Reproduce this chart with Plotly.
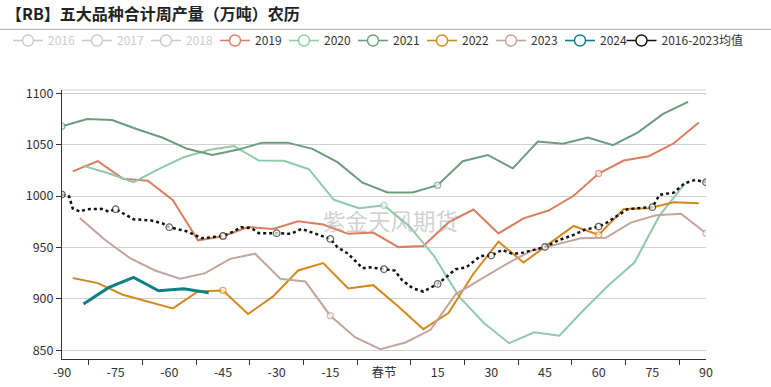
import plotly.graph_objects as go

# ---------------- data ----------------
x_2019 = [-87, -80, -73, -66, -59, -52, -45, -38, -31, -24, -17, -10, -3, 4, 11, 18, 25, 32, 39, 46, 53, 60, 67, 74, 81, 88]
y_2019 = [1024, 1034, 1017, 1015, 996, 957, 961, 970, 968, 975.6, 972.4, 963.3, 964.6, 950.4, 951.4, 974.4, 987, 963.7, 978.4, 986, 1000.3, 1022, 1034.6, 1038.8, 1051.4, 1071.5]

x_2020 = [-84, -77, -70, -63, -56, -49, -42, -35, -28, -21, -14, -7, 0, 7, 14, 21, 28, 35, 42, 49, 56, 63, 70, 77, 84]
y_2020 = [1029.4, 1022.3, 1013.5, 1026.2, 1037.8, 1044.9, 1048.8, 1034.6, 1034.3, 1026.2, 996.4, 988.3, 991, 971, 941.8, 902.3, 876.4, 857, 867.5, 864.3, 890, 914, 935.4, 981, 1012]

x_2021 = [-90, -83, -76, -69, -62, -55, -48, -41, -34, -27, -20, -13, -6, 1, 8, 15, 22, 29, 36, 43, 50, 57, 64, 71, 78, 85]
y_2021 = [1068, 1075, 1074, 1065, 1057, 1046, 1040, 1045, 1052, 1052, 1046, 1033, 1013, 1003.5, 1003.5, 1010.6, 1034, 1040, 1027, 1053, 1051, 1057, 1049.5, 1062, 1080, 1091.6]

x_2022 = [-87, -80, -73, -66, -59, -52, -45, -38, -31, -24, -17, -10, -3, 4, 11, 18, 25, 32, 39, 46, 53, 60, 67, 74, 81, 88]
y_2022 = [920.3, 915.4, 904.1, 897.3, 890.8, 907.3, 908.3, 885.3, 902.5, 927.7, 934.8, 910.2, 913.4, 892.6, 870.6, 886.2, 924.5, 955.7, 935.4, 953.3, 971, 962.3, 987.4, 988.2, 994, 993]

x_2023 = [-85, -78, -71, -64, -57, -50, -43, -36, -29, -22, -15, -8, -1, 6, 13, 20, 27, 34, 41, 48, 55, 62, 69, 76, 83, 90]
y_2023 = [978.6, 957.5, 939.7, 927.7, 919.6, 925.1, 939, 944, 919.6, 917, 883.7, 862.6, 851.2, 857.7, 870, 904.5, 919, 933.5, 946.5, 952.5, 959, 959.4, 974.3, 981.3, 982.8, 964]

x_2024 = [-84, -77, -70, -63, -56, -49]
y_2024 = [895, 911, 921, 908, 910, 906]

x_mean = [-90, -88, -87, -85, -83, -79, -77, -75, -70, -65, -62, -60, -55, -51, -48, -45, -42, -40, -37, -35,
          -30, -26, -23, -20, -15, -13, -10, -6, -4, 0, 3, 5, 8, 11, 15, 17, 20, 23, 27, 30,
          33, 36, 39, 41, 45, 49, 53, 56, 60, 62, 65, 68, 72, 75, 77, 81, 84, 87, 90]
y_mean = [1001.5, 999.6, 988, 985, 987.3, 987.6, 985, 987.3, 977.5, 976.2, 973.6, 969.8, 965.6, 959.1, 960.1, 961.3, 965.6, 969.8, 968.8, 964,
          964, 963.3, 968.1, 964.6, 958.4, 950.3, 943.9, 929.9, 930.8, 929, 927.6, 918.5, 910.4, 907.2, 914.6, 920.1, 928.9, 930.8, 941.8, 942.2,
          947.7, 943.8, 945.1, 947, 950.5, 957.4, 962.3, 967.2, 970.4, 973.6, 980.1, 987.2, 988.6, 989.2, 1001.2, 1003.4, 1012.5, 1015.7, 1013.5]

# 2016-2018 are switched off in the reference (legend only, no visible data)
hidden_years = ["2016", "2017", "2018"]

tick_vals = [-90, -75, -60, -45, -30, -15, 0, 15, 30, 45, 60, 75, 90]
tick_text = ["-90", "-75", "-60", "-45", "-30", "-15", "春节", "15", "30", "45", "60", "75", "90"]
y_ticks = [850, 900, 950, 1000, 1050, 1100]

title_text = "【RB】五大品种合计周产量（万吨）农历"
watermark = "紫金天风期货"
mean_name = "2016-2023均值"

FONT = "Noto Sans CJK SC, Noto Sans, sans-serif"

series = [
    ("2019", x_2019, y_2019, "#da7e5f", 2),
    ("2020", x_2020, y_2020, "#8fcaab", 2),
    ("2021", x_2021, y_2021, "#6b9d7c", 2),
    ("2022", x_2022, y_2022, "#d4891f", 2),
    ("2023", x_2023, y_2023, "#c2a59c", 2),
    ("2024", x_2024, y_2024, "#0f7f87", 3),
]

def sizes(xs, s=6):
    return [s if x % 15 == 0 else 0 for x in xs]

def legend_entry(name, color, legend="legend", dash="solid", visible=True):
    # legend-only swatch (no plotted points)
    return go.Scatter(
        x=[None], y=[None], name=name, mode="lines+markers", legend=legend,
        visible=visible, hoverinfo="skip",
        line=dict(color=color, width=1.6, dash=dash),
        marker=dict(symbol="circle", color="white", size=11, line=dict(color=color, width=1.4)),
    )

fig = go.Figure()

for nm in hidden_years:
    fig.add_trace(legend_entry("<span style='color:#999999'>%s</span>" % nm, "#999999", visible="legendonly"))

for nm, xs, ys, col, w in series:
    fig.add_trace(go.Scatter(
        x=xs, y=ys, name=nm, mode="lines+markers", showlegend=False,
        line=dict(color=col, width=w),
        marker=dict(symbol="circle", color="white", size=sizes(xs), line=dict(color=col, width=1.3)),
    ))
    fig.add_trace(legend_entry(nm, col))

fig.add_trace(go.Scatter(
    x=x_mean, y=y_mean, name=mean_name, mode="lines+markers", showlegend=False,
    line=dict(color="#111111", width=2.5, dash="dot"),
    marker=dict(symbol="circle", color="white", size=sizes(x_mean, 6.5), line=dict(color="#222222", width=1.3)),
))
fig.add_trace(legend_entry(mean_name, "#111111", legend="legend2"))

leg_common = dict(
    orientation="h", xref="container", yref="container",
    yanchor="middle", y=1 - 40.5 / 387, xanchor="left",
    font=dict(family=FONT, size=12, color="#333333"),
    itemwidth=30, bgcolor="rgba(0,0,0,0)", traceorder="normal",
)

fig.update_layout(
    width=771, height=387,
    margin=dict(l=62, r=65, t=90, b=28, autoexpand=False),
    paper_bgcolor="white", plot_bgcolor="white",
    font=dict(family=FONT, size=12.5, color="#333333"),
    showlegend=True,
    legend=dict(x=8 / 771, entrywidth=24, entrywidthmode="pixels", **leg_common),
    legend2=dict(x=(5 + 9 * 68.5) / 771, **leg_common),
    xaxis=dict(
        range=[-90, 90], tickmode="array", tickvals=tick_vals, ticktext=tick_text,
        ticks="", showgrid=False, zeroline=False, ticklabelstandoff=2,
        showline=True, linecolor="#333333", linewidth=1,
        tickfont=dict(family=FONT, size=12.5, color="#333333"),
        minor=dict(ticks="outside", tick0=7.5, dtick=15, ticklen=5, tickcolor="#333333", tickwidth=1, showgrid=False),
    ),
    yaxis=dict(
        range=[841.6, 1103.2], tickmode="array", tickvals=y_ticks,
        ticks="outside", ticklen=5, tickcolor="#333333",
        showgrid=True, gridcolor="#d0d0d0", gridwidth=1, zeroline=False,
        showline=True, linecolor="#333333", linewidth=1,
        tickfont=dict(family=FONT, size=12.5, color="#333333"),
    ),
    annotations=[
        dict(text="<b>%s</b>" % title_text, xref="paper", yref="paper", x=-58 / 644, y=1 + 77 / 269.3,
             xanchor="left", yanchor="middle", showarrow=False,
             font=dict(family=FONT, size=16, color="#222222")),
        dict(text=watermark, xref="paper", yref="paper", x=(390 - 62) / 644, y=(359.3 - 220) / 269.3,
             xanchor="center", yanchor="middle", showarrow=False,
             font=dict(family=FONT, size=22.5, color="rgba(170,170,170,0.55)")),
    ],
    shapes=[
        dict(type="line", xref="paper", yref="paper", x0=-62 / 644, x1=1 + 65 / 644, y0=1 + 60.7 / 269.3, y1=1 + 60.7 / 269.3,
             line=dict(color="#aaaaaa", width=1)),
        dict(type="line", xref="paper", yref="paper", x0=0, x1=1, y0=1, y1=1,
             line=dict(color="#d0d0d0", width=1), layer="below"),
    ],
)

fig.write_html("out.html", config={"displayModeBar": False},
               post_script="document.body.style.margin='0px';")
